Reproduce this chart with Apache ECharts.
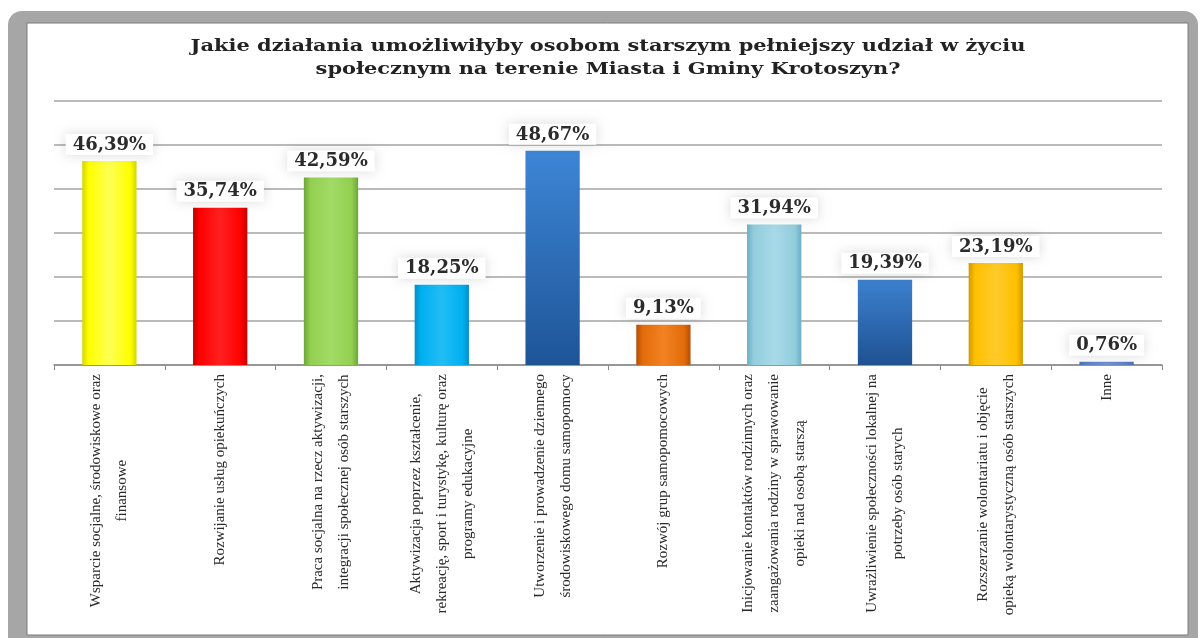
<!DOCTYPE html>
<html>
<head>
<meta charset="utf-8">
<script src="https://cdn.jsdelivr.net/npm/echarts@6/dist/echarts.min.js"></script>
<style>
  html, body { margin: 0; padding: 0; background: #fff; }
  #chart { width: 1200px; height: 638px; }
</style>
</head>
<body>
<div id="chart"></div>
<script>
const titleLines = [
  'Jakie działania umożliwiłyby osobom starszym pełniejszy udział w życiu',
  'społecznym na terenie Miasta i Gminy Krotoszyn?'
];
const categories = [
  ['Wsparcie socjalne, środowiskowe oraz', 'finansowe'],
  ['Rozwijanie usług opiekuńczych'],
  ['Praca socjalna na rzecz aktywizacji,', 'integracji społecznej osób starszych'],
  ['Aktywizacja poprzez kształcenie,', 'rekreację, sport i turystykę, kulturę oraz', 'programy edukacyjne'],
  ['Utworzenie i prowadzenie dziennego', 'środowiskowego domu samopomocy'],
  ['Rozwój grup samopomocowych'],
  ['Inicjowanie kontaktów rodzinnych oraz', 'zaangażowania rodziny w sprawowanie', 'opieki nad osobą starszą'],
  ['Uwrażliwienie społeczności lokalnej na', 'potrzeby osób starych'],
  ['Rozszerzanie wolontariatu i objęcie', 'opieką wolontarystyczną osób starszych'],
  ['Inne']
];
const values = [46.39, 35.74, 42.59, 18.25, 48.67, 9.13, 31.94, 19.39, 23.19, 0.76];
const yTicks = [0, 10, 20, 30, 40, 50, 60];

// bar styling: [edge, base, highlight, vertical?]
const barStyles = [
  ['#D6D600', '#FFFF00', '#FFFF55', false],
  ['#C20000', '#FF0000', '#FF2020', false],
  ['#6EA53A', '#92D050', '#A2DB66', false],
  ['#0090C8', '#00B0F0', '#22BDF5', false],
  ['#1E5497', '#2E6FC0', '#3D86D6', true],
  ['#B25008', '#E36C0A', '#F38222', false],
  ['#6CAEC6', '#92CDDC', '#A8DAE8', false],
  ['#1F5293', '#2E6DB8', '#3C80CE', true],
  ['#D29A00', '#FFC000', '#FFCB2A', false],
  ['#4A6FB8', '#5B80C8', '#7090D4', false]
];

function barColor(s) {
  if (s[3]) {
    return new echarts.graphic.LinearGradient(0, 0, 0, 1, [
      { offset: 0, color: s[2] },
      { offset: 1, color: s[0] }
    ]);
  }
  return new echarts.graphic.LinearGradient(0, 0, 1, 0, [
    { offset: 0, color: s[0] },
    { offset: 0.12, color: s[1] },
    { offset: 0.5, color: s[2] },
    { offset: 0.88, color: s[1] },
    { offset: 1, color: s[0] }
  ]);
}

const chart = echarts.init(document.getElementById('chart'), null, { renderer: 'canvas' });

const catNames = categories.map(c => c.join('\n'));

const option = {
  backgroundColor: '#ffffff',
  animation: false,
  graphic: [
    {
      type: 'rect', z: -20, silent: true,
      shape: { x: 8, y: 11, width: 1190, height: 660, r: 14 },
      style: { fill: '#a6a6a6' }
    },
    {
      type: 'rect', z: -19, silent: true,
      shape: { x: 27, y: 23, width: 1161, height: 612 },
      style: { fill: '#ffffff', stroke: '#7a7a7a', lineWidth: 1 }
    },
    {
      type: 'text', silent: true,
      x: 608, y: 35, scaleX: 1.23, scaleY: 1,
      style: {
        text: titleLines.join('\n'),
        font: 'bold 17px "DejaVu Serif"',
        align: 'center',
        verticalAlign: 'top',
        lineHeight: 23,
        fill: '#222222'
      }
    }
  ],
  grid: {
    left: 54,
    right: 38,
    top: 101,
    bottom: 273,
    containLabel: false,
    outerBoundsMode: 'none'
  },
  xAxis: {
    type: 'category',
    data: catNames,
    boundaryGap: true,
    axisLine: { show: true, lineStyle: { color: '#8c8c8c', width: 1.5 } },
    axisTick: { show: true, length: 5, alignWithLabel: false, interval: 0, lineStyle: { color: '#8c8c8c' } },
    axisLabel: {
      interval: 0,
      rotate: 90,
      margin: 9,
      formatter: function (v) {
        return v.split('\n').map(l => '{c|' + l + '}').join('\n');
      },
      rich: {
        c: {
          align: 'center',
          fontFamily: 'Liberation Serif',
          fontSize: 15,
          lineHeight: 26,
          color: '#2a2a2a'
        }
      }
    }
  },
  yAxis: {
    type: 'value',
    min: yTicks[0],
    max: yTicks[yTicks.length - 1],
    interval: yTicks[1] - yTicks[0],
    axisLine: { show: false },
    axisTick: { show: false },
    axisLabel: { show: false },
    splitLine: { show: true, lineStyle: { color: '#a3a3a3', width: 1.5 } }
  },
  series: [{
    type: 'bar',
    barWidth: '49%',
    data: values.map((v, i) => ({
      value: v,
      itemStyle: { color: barColor(barStyles[i]) }
    })),
    label: {
      show: true,
      position: 'top',
      distance: 6,
      formatter: p => p.value.toFixed(2).replace('.', ',') + '%',
      fontFamily: 'DejaVu Serif',
      fontWeight: 'bold',
      fontSize: 18,
      color: '#2b2b2b',
      backgroundColor: '#ffffff',
      padding: [2, 7, 1, 7],
      shadowColor: 'rgba(0,0,0,0.14)',
      shadowBlur: 12
    }
  }]
};

chart.setOption(option);
</script>
</body>
</html>
